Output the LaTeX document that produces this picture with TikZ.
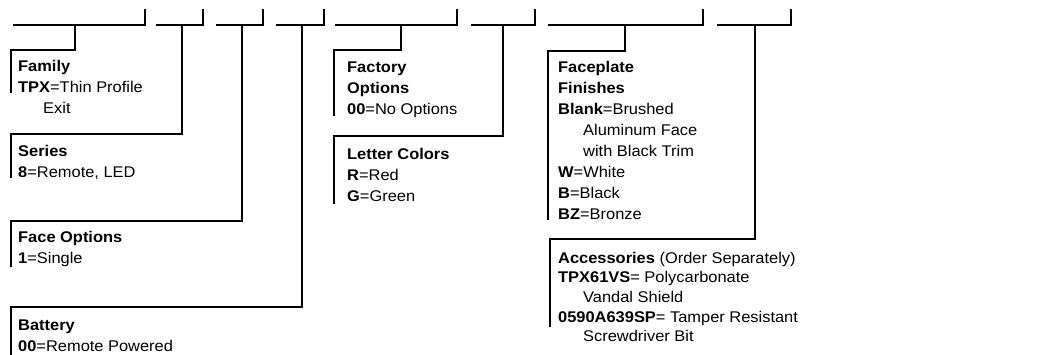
\documentclass[tikz,border=0pt]{standalone}
\usepackage{fontspec}
\setmainfont[FakeStretch=1.06]{Liberation Sans}
\newcommand\lbltab[1]{\begin{tabular}[t]{@{}l@{}}#1\end{tabular}}
\newcommand\ind{\hspace*{25pt}}
\begin{document}
\begin{tikzpicture}[x=1pt,y=-1pt,
  rule/.style={line width=2.4pt,black},
  lbl/.style={anchor=base west,inner sep=0pt,font=\fontsize{15.5}{21}\selectfont},
  lbltight/.style={lbl,font=\fontsize{15.5}{19.6}\selectfont}]
\useasboundingbox (0,0) rectangle (1039,354);
% blanks
\foreach \l/\r in {13/145,156/203,216/263,276/324,335/457,471/535,548/703,717/791}
  \draw[rule] (\l,25) -- (\r,25) -- (\r,9);
% drop points on blanks
\coordinate (d1) at (75,25);
\coordinate (d2) at (182,25);
\coordinate (d3) at (242,25);
\coordinate (d4) at (302,25);
\coordinate (d5) at (401,25);
\coordinate (d6) at (503,25);
\coordinate (d7) at (625,25);
\coordinate (d8) at (755,25);
% corners
\coordinate (k1) at (11,50);
\coordinate (k2) at (11,134);
\coordinate (k3) at (11,221);
\coordinate (k4) at (11,307);
\coordinate (k5) at (334,50);
\coordinate (k6) at (334,136);
\coordinate (k7) at (548,51);
\coordinate (k8) at (550,239);
% bar ends
\coordinate (e1) at (11,93);
\coordinate (e2) at (11,178);
\coordinate (e3) at (11,267);
\coordinate (e4) at (11,356);
\coordinate (e5) at (334,116);
\coordinate (e6) at (334,204);
\coordinate (e7) at (548,220);
\coordinate (e8) at (550,327);
\foreach \i in {1,...,8}
  \draw[rule] (d\i) |- (k\i) -- (e\i);
% labels
\node[lbl] (family) at (18,71.7) {\lbltab{\textbf{Family}\\\textbf{TPX}=Thin Profile\\\ind Exit}};
\node[lbl] (series) at (18,156.7) {\lbltab{\textbf{Series}\\\textbf{8}=Remote, LED}};
\node[lbl] (face) at (18,242.7) {\lbltab{\textbf{Face Options}\\\textbf{1}=Single}};
\node[lbl] (battery) at (18,330.7) {\lbltab{\textbf{Battery}\\\textbf{00}=Remote Powered}};
\node[lbl] (factory) at (347,72.7) {\lbltab{\textbf{Factory}\\\textbf{Options}\\\textbf{00}=No Options}};
\node[lbl] (letter) at (347,159.3) {\lbltab{\textbf{Letter Colors}\\\textbf{R}=Red\\\textbf{G}=Green}};
\node[lbl] (finish) at (558,72.7) {\lbltab{\textbf{Faceplate}\\\textbf{Finishes}\\\textbf{Blank}=Brushed\\\ind Aluminum Face\\\ind with Black Trim\\\textbf{W}=White\\\textbf{B}=Black\\\textbf{BZ}=Bronze}};
\node[lbltight] (acc) at (558,263.3) {\lbltab{\textbf{Accessories} (Order Separately)\\\textbf{TPX61VS}= Polycarbonate\\\ind Vandal Shield\\\textbf{0590A639SP}= Tamper Resistant\\\ind Screwdriver Bit}};
\end{tikzpicture}
\end{document}
